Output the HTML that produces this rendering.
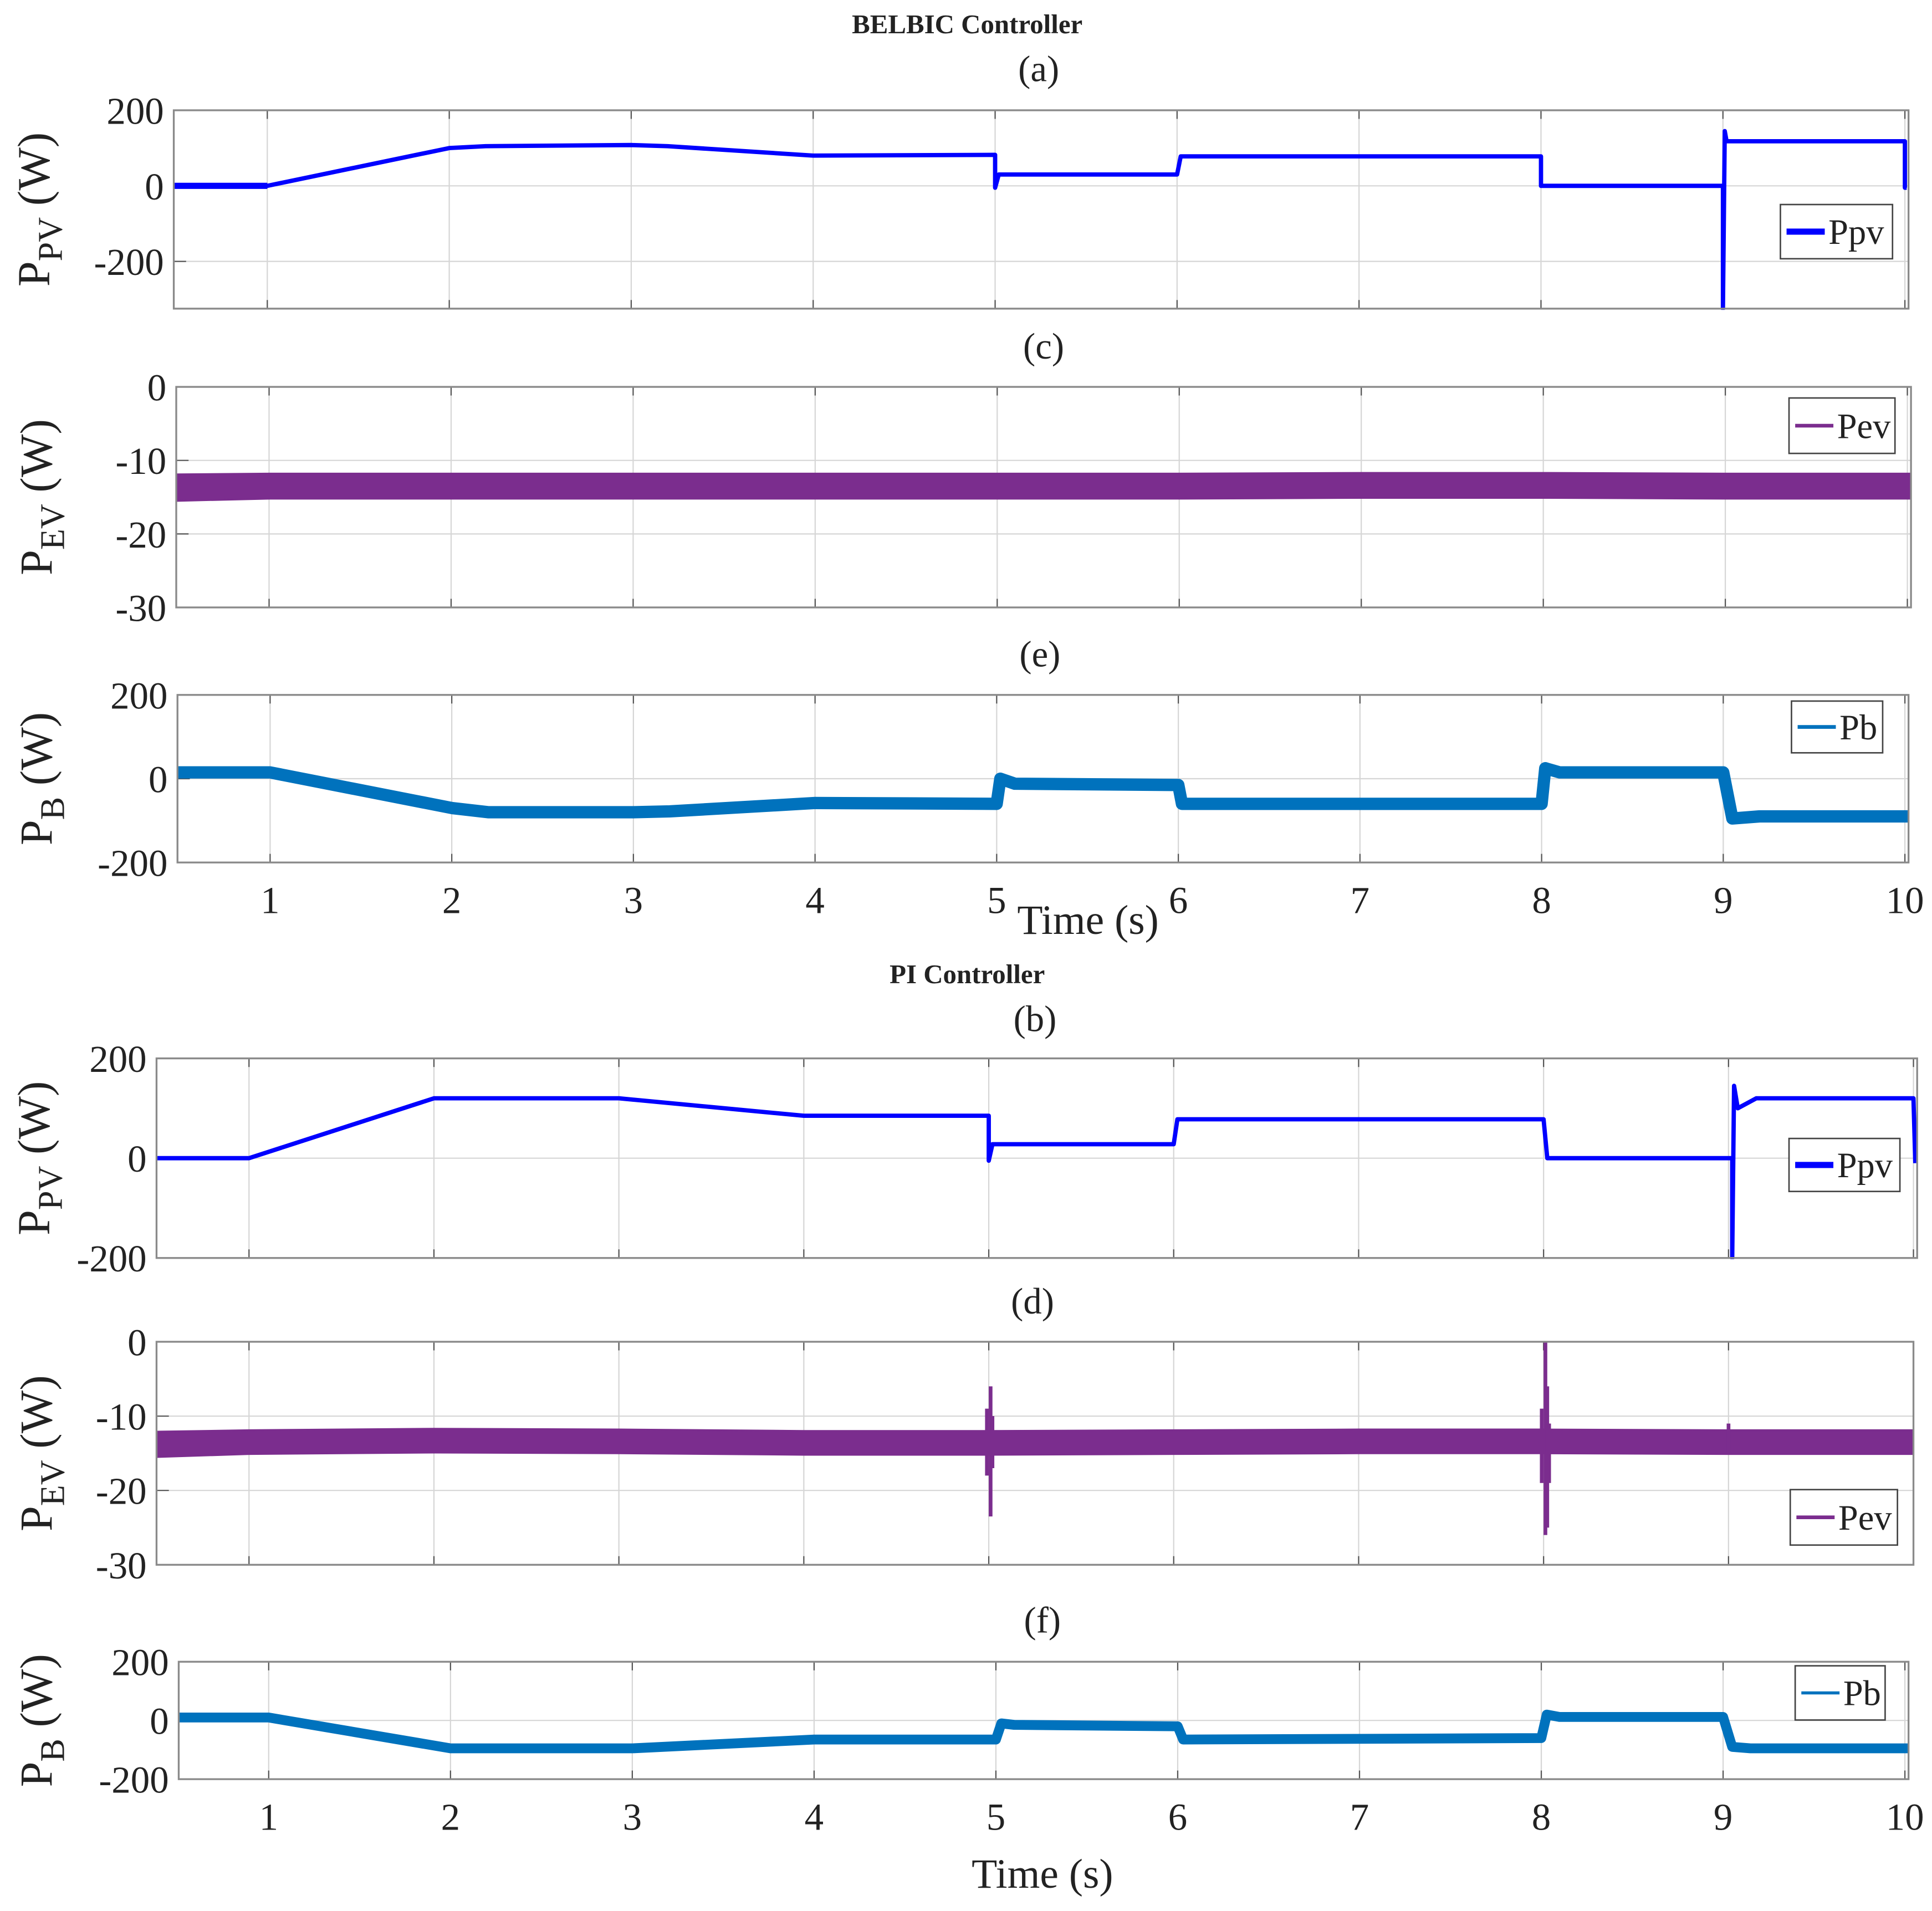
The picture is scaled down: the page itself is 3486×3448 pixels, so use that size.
<!DOCTYPE html>
<html><head><meta charset="utf-8">
<style>
html,body{margin:0;padding:0;background:#fff;}
svg{display:block;}
text{font-family:"Liberation Serif",serif;fill:#222;}
</style></head>
<body>
<svg id="fig" width="3486" height="3448" viewBox="0 0 1568 1551" xmlns="http://www.w3.org/2000/svg">
<text x="785" y="27" font-size="22" font-weight="bold" text-anchor="middle">BELBIC Controller</text>
<text x="843" y="66" font-size="30" text-anchor="middle">(a)</text>
<text x="847" y="291" font-size="30" text-anchor="middle">(c)</text>
<text x="844" y="541" font-size="30" text-anchor="middle">(e)</text>
<text x="883" y="758" font-size="34" text-anchor="middle">Time (s)</text>
<text x="785" y="798" font-size="22" font-weight="bold" text-anchor="middle">PI Controller</text>
<text x="840" y="837" font-size="30" text-anchor="middle">(b)</text>
<text x="838" y="1066" font-size="30" text-anchor="middle">(d)</text>
<text x="846" y="1325" font-size="30" text-anchor="middle">(f)</text>
<text x="846" y="1532" font-size="34" text-anchor="middle">Time (s)</text>
</svg>
<script>
// ---------- data ----------
const xTicks = [1,2,3,4,5,6,7,8,9,10];
const xTickLabels = ["1","2","3","4","5","6","7","8","9","10"];
const pwTicks = [200,0,-200];
const pwTickLabels = ["200","0","-200"];
const evTicks = [0,-10,-20,-30];
const evTickLabels = ["0","-10","-20","-30"];

// (a) Ppv BELBIC
const pvA_t = [0.49,1,2,2.2,3,3.2,4,5,5,5.02,6,6,6.02,8,8,9,9,9.01,9.02,9.03,10,10,10.01];
const pvA_v = [0,0,100,105,108,105,80,82,-5,30,30,30,78,78,0,0,-325,145,118,118,118,-5,-5];
// (c) Pev BELBIC
const evC_t = [0.49,1,2,3,4,5,6,7,8,9,10.02];
const evC_v = [-13.7,-13.5,-13.5,-13.5,-13.5,-13.5,-13.5,-13.4,-13.4,-13.5,-13.5];
const evC_w = [3.6,3.4,3.4,3.4,3.4,3.4,3.4,3.4,3.4,3.4,3.4];
// (e) Pb BELBIC
const pbE_t = [0.49,1,2,2.2,3,3.2,4,5,5.02,5.1,6,6.02,8,8.02,8.1,9,9.05,9.2,10.02];
const pbE_v = [15,15,-70,-80,-80,-78,-58,-60,0,-12,-15,-60,-60,25,15,15,-95,-90,-90];
// (b) Ppv PI
const pvB_t = [0.5,1,2,3,4,5,5,5.02,6,6,6.02,8,8,8.02,9.02,9.02,9.03,9.05,9.15,10,10.01];
const pvB_v = [0,0,120,120,85,85,-5,28,28,28,78,78,78,0,0,-200,145,100,120,120,-10];
// (d) Pev PI
const evD_t = [0.5,1,2,3,4,5,6,7,8,9,10];
const evD_v = [-13.8,-13.5,-13.3,-13.4,-13.6,-13.6,-13.5,-13.4,-13.4,-13.5,-13.5];
const evD_w = [3.4,3.2,3.2,3.2,3.2,3.2,3.2,3.2,3.2,3.2,3.2];
const evD_spikeT = [4.99,5.01,5.02,7.99,8.01,8.02,8.03,9.0];
const evD_spikeHi = [-9,-6,-10,-9,0,-6,-11,-11];
const evD_spikeLo = [-18,-23.5,-17,-19,-26,-25,-19,-15];
// (f) Pb PI
const pbF_t = [0.5,1,2,3,4,5,5.03,5.1,6,6.03,8,8.03,8.1,9,9.05,9.15,10.02];
const pbF_v = [10,10,-95,-95,-65,-65,-10,-15,-20,-65,-60,20,12,12,-90,-95,-95];

// ---------- drawing ----------
const NS="http://www.w3.org/2000/svg";
const svg=document.getElementById('fig');
function mk(tag,attrs,parent){const e=document.createElementNS(NS,tag);for(const k in attrs)e.setAttribute(k,attrs[k]);(parent||svg).appendChild(e);return e;}

function makePanel(cfg){
  const g=mk('g',{});
  
  
  const sx=t=>cfg.x0+(t-cfg.t0)/(cfg.t1-cfg.t0)*(cfg.x1-cfg.x0);
  const sy=v=>cfg.y0+(cfg.v1-v)/(cfg.v1-cfg.v0)*(cfg.y1-cfg.y0);
  xTicks.forEach(t=>{
    if(t<cfg.t0||t>cfg.t1-0.01)return;
    const l=mk('line',{x1:sx(t),x2:sx(t),y1:cfg.y0,y2:cfg.y1,stroke:'#d6d6d6','stroke-width':1},g);
    
    
    mk('line',{x1:sx(t),x2:sx(t),y1:cfg.y0,y2:cfg.y0+7,stroke:'#555','stroke-width':1},g);
    mk('line',{x1:sx(t),x2:sx(t),y1:cfg.y1,y2:cfg.y1-7,stroke:'#555','stroke-width':1},g);
  });
  cfg.yt.forEach((v,i)=>{
    const y=sy(v);
    const l=mk('line',{x1:cfg.x0,x2:cfg.x1,y1:y,y2:y,stroke:'#d6d6d6','stroke-width':1},g);
    
    
    mk('line',{x1:cfg.x0,x2:cfg.x0+10,y1:y,y2:y,stroke:'#555','stroke-width':1},g);
    const tx=mk('text',{x:cfg.x0-8,y:y+11,'font-size':31,'text-anchor':'end'},g);
    tx.textContent=cfg.ytl[i];
    
    
  });
  const clip=mk('clipPath',{id:'clip-'+cfg.name},g);
  mk('rect',{x:cfg.x0,y:cfg.y0-1,width:cfg.x1-cfg.x0,height:cfg.y1-cfg.y0+2},clip);
  const sg=mk('g',{'clip-path':'url(#clip-'+cfg.name+')'},g);
  if(cfg.band){
    const up=cfg.ts.map((t,i)=>sx(t)+','+sy(cfg.vs[i]+cfg.band[i]/2));
    const dn=cfg.ts.map((t,i)=>sx(t)+','+sy(cfg.vs[i]-cfg.band[i]/2)).reverse();
    const p=mk('polygon',{points:up.concat(dn).join(' '),fill:cfg.color,stroke:cfg.color,'stroke-width':1.5,'stroke-linejoin':'round'},sg);
    
    
  } else {
    const pts=cfg.ts.map((t,i)=>sx(t)+','+sy(cfg.vs[i])).join(' ');
    const p=mk('polyline',{points:pts,fill:'none',stroke:cfg.color,'stroke-width':cfg.sw,'stroke-linejoin':'round'},sg);
    
    
    if(cfg.thickTo){
      const p2=mk('line',{x1:sx(cfg.ts[0]),x2:sx(cfg.thickTo),y1:sy(cfg.vs[0]),y2:sy(cfg.vs[1]),stroke:cfg.color,'stroke-width':5},sg);
      
      
    }
  }
  if(cfg.spT){
    cfg.spT.forEach((t,i)=>{
      const s=mk('line',{x1:sx(t),x2:sx(t),y1:sy(cfg.spHi[i]),y2:sy(cfg.spLo[i]),stroke:cfg.color,'stroke-width':3},sg);
      
      
    });
  }
  const b=mk('rect',{x:cfg.x0,y:cfg.y0,width:cfg.x1-cfg.x0,height:cfg.y1-cfg.y0,fill:'none',stroke:'#8a8a8a','stroke-width':1.5},g);
  
  
  if(cfg.xlab){
    xTicks.forEach((t,i)=>{
      const tx=mk('text',{x:sx(t),y:cfg.y1+41,'font-size':31,'text-anchor':'middle'},g);
      tx.textContent=xTickLabels[i];
      
      
    });
  }
  const yt=mk('text',{transform:`translate(${cfg.ytx},${(cfg.y0+cfg.y1)/2}) rotate(-90)`,'font-size':37,'text-anchor':'middle'},g);
  
  
  const s1=mk('tspan',{},yt); s1.textContent='P';
  const s2=mk('tspan',{'font-size':28,dy:10},yt); s2.textContent=cfg.sub;
  const s3=mk('tspan',{dy:-10},yt); s3.textContent=' (W)';
  const L=cfg.leg;
  const lg=mk('g',{},g);
  
  
  mk('rect',{x:L[0],y:L[1],width:L[2],height:L[3],fill:'#fff',stroke:'#444','stroke-width':1.2},lg);
  mk('line',{x1:L[0]+5,x2:L[0]+36,y1:L[1]+L[3]/2,y2:L[1]+L[3]/2,stroke:cfg.color,'stroke-width':cfg.lsw},lg);
  const lt=mk('text',{x:L[0]+39,y:L[1]+L[3]/2+10,'font-size':29},lg);
  lt.textContent=cfg.legText;
}

makePanel({name:'panel-a-ppv-belbic',series:'ppv',x0:141,x1:1549,y0:89.5,y1:250.5,t0:0.486,t1:10.02,v0:-325,v1:200,
  yt:pwTicks,ytl:pwTickLabels,ts:pvA_t,vs:pvA_v,color:'#0000ff',sw:3.5,thickTo:1,ytx:40,sub:'PV',leg:[1445,166,91,44],legText:'Ppv',lsw:5});
makePanel({name:'panel-c-pev-belbic',series:'pev',x0:143,x1:1551,y0:314,y1:493,t0:0.49,t1:10.02,v0:-30,v1:0,
  yt:evTicks,ytl:evTickLabels,ts:evC_t,vs:evC_v,band:evC_w,color:'#7b2d8e',ytx:42,sub:'EV',leg:[1452,323,86,45],legText:'Pev',lsw:3});
makePanel({name:'panel-e-pb-belbic',series:'pb',x0:144,x1:1549,y0:564,y1:700,t0:0.49,t1:10.02,v0:-200,v1:200,
  yt:pwTicks,ytl:pwTickLabels,ts:pbE_t,vs:pbE_v,color:'#0072bd',sw:10,ytx:42,sub:'B',leg:[1454,569,74,42],legText:'Pb',lsw:3,xlab:true});
makePanel({name:'panel-b-ppv-pi',series:'ppv',x0:127,x1:1556,y0:859,y1:1021,t0:0.5,t1:10.02,v0:-200,v1:200,
  yt:pwTicks,ytl:pwTickLabels,ts:pvB_t,vs:pvB_v,color:'#0000ff',sw:3.5,ytx:40,sub:'PV',leg:[1452,924,90,43],legText:'Ppv',lsw:5});
makePanel({name:'panel-d-pev-pi',series:'pev',x0:127,x1:1553,y0:1089,y1:1270,t0:0.5,t1:10,v0:-30,v1:0,
  yt:evTicks,ytl:evTickLabels,ts:evD_t,vs:evD_v,band:evD_w,color:'#7b2d8e',spT:evD_spikeT,spHi:evD_spikeHi,spLo:evD_spikeLo,ytx:42,sub:'EV',leg:[1453,1209,87,45],legText:'Pev',lsw:3});
makePanel({name:'panel-f-pb-pi',series:'pb',x0:145,x1:1549,y0:1348.7,y1:1444,t0:0.505,t1:10.02,v0:-200,v1:200,
  yt:pwTicks,ytl:pwTickLabels,ts:pbF_t,vs:pbF_v,color:'#0072bd',sw:8,ytx:42,sub:'B',leg:[1457,1352,73,44],legText:'Pb',lsw:2.5,xlab:true});
</script>
</body></html>
